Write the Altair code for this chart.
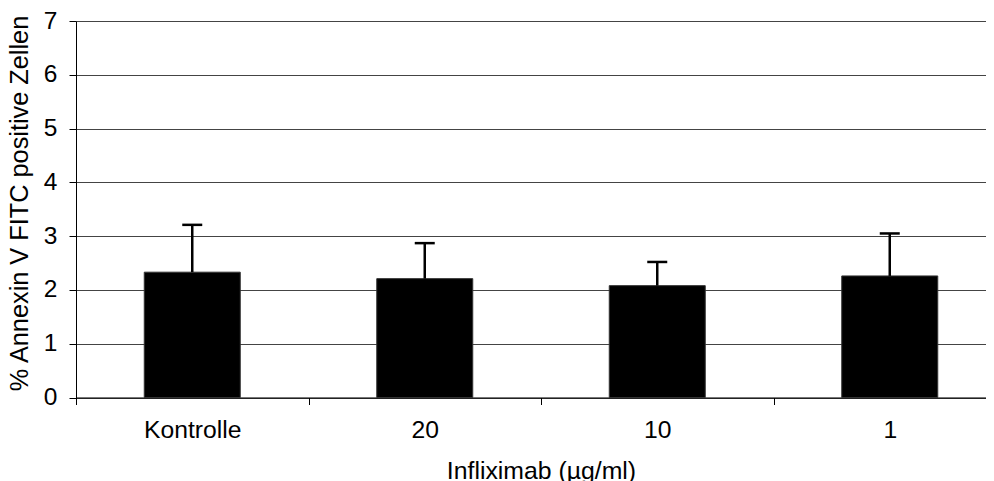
import altair as alt
import pandas as pd

categories = ["Kontrolle", "20", "10", "1"]
means = [2.33, 2.21, 2.08, 2.26]
upper = [3.21, 2.87, 2.52, 3.05]

df = pd.DataFrame({"cat": categories, "mean": means, "upper": upper})

FONT = "Liberation Sans"

x_scale = alt.Scale(paddingInner=0, paddingOuter=0, range=[0, 930])

x_enc = alt.X(
    "cat:N",
    sort=categories,
    scale=x_scale,
    axis=alt.Axis(
        title="Infliximab (µg/ml)",
        labelAngle=0,
        tickBand="extent",
        tickSize=7,
        labelPadding=13,
        labelFontSize=24.7,
        titleFontSize=24.8,
        titleFontWeight="normal",
        titleX=465,
        titleY=80.5,
        titleAlign="center",
        titleBaseline="alphabetic",
        domainColor="black",
        tickColor="black",
        grid=False,
    ),
)

y_scale = alt.Scale(domain=[0, 7], nice=False)

bars = alt.Chart(df).mark_bar(width=96, color="black", stroke="#333", strokeWidth=1).encode(
    x=x_enc,
    y=alt.Y(
        "mean:Q",
        scale=y_scale,
        axis=alt.Axis(
            title="% Annexin V FITC positive Zellen",
            values=[0, 1, 2, 3, 4, 5, 6, 7],
            format="d",
            tickSize=7,
            labelPadding=12,
            labelFontSize=24.5,
            titleFontSize=25.3,
            titleFontWeight="normal",
            titleAngle=270,
            titleAlign="center",
            titleBaseline="alphabetic",
            titleX=-48.5,
            titleY=182,
            grid=True,
            gridColor="#444",
            gridWidth=1,
            domainColor="black",
            tickColor="black",
        ),
    ),
)

rules = alt.Chart(df).mark_rule(color="black", strokeWidth=2.5).encode(
    x=alt.X("cat:N", sort=categories, scale=x_scale),
    y=alt.Y("mean:Q", scale=y_scale),
    y2="upper:Q",
)

caps = alt.Chart(df).mark_tick(color="black", size=20, thickness=2.5, opacity=1).encode(
    x=alt.X("cat:N", sort=categories, scale=x_scale),
    y=alt.Y("upper:Q", scale=y_scale),
)

chart = (
    alt.layer(bars, rules, caps)
    .properties(
        width=910,
        height=376.5,
        autosize=alt.AutoSizeParams(type="none"),
        padding={"left": 68, "top": 13, "right": 0, "bottom": 85},
    )
    .configure_axis(
        labelFont=FONT,
        titleFont=FONT,
        labelColor="black",
        titleColor="black",
    )
    .configure_view(stroke=None)
    .configure(background="white")
)

chart.save("out.html", embed_options={"renderer": "svg", "actions": False})
